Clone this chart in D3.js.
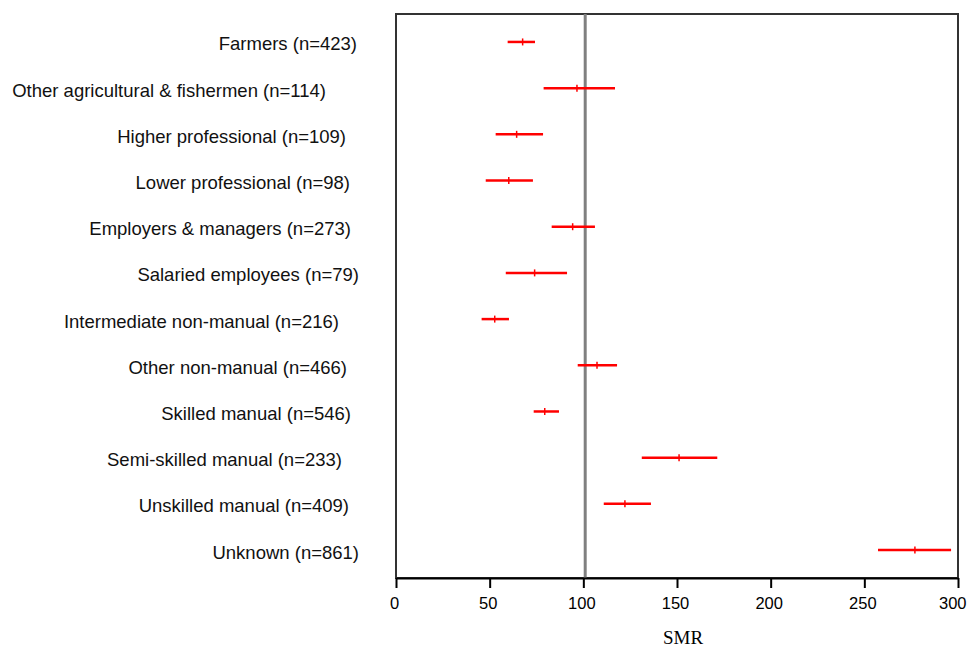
<!DOCTYPE html>
<html>
<head>
<meta charset="utf-8">
<script src="https://cdn.jsdelivr.net/npm/d3@7/dist/d3.min.js"></script>
<style>
  html, body { margin: 0; padding: 0; background: #fff; }
  svg { display: block; }
</style>
</head>
<body>
<svg id="chart" width="969" height="648"></svg>
<script>
// ---- data ----
const categories = [
  "Farmers (n=423)",
  "Other agricultural & fishermen (n=114)",
  "Higher professional (n=109)",
  "Lower professional (n=98)",
  "Employers & managers (n=273)",
  "Salaried employees (n=79)",
  "Intermediate non-manual (n=216)",
  "Other non-manual (n=466)",
  "Skilled manual (n=546)",
  "Semi-skilled manual (n=233)",
  "Unskilled manual (n=409)",
  "Unknown (n=861)"
];
const smr   = [67.6, 96.6, 64.4, 60.2, 94.3, 74.0, 52.7, 107.3, 79.4, 151.1, 122.2, 277.0];
const lower = [59.6, 78.8, 53.2, 47.9, 83.1, 58.6, 45.7, 97.0, 73.5, 131.2, 110.9, 257.3];
const upper = [74.2, 116.9, 78.5, 73.1, 106.2, 91.3, 60.3, 118.0, 87.0, 171.5, 136.1, 296.3];
const xTicks = [0, 50, 100, 150, 200, 250, 300];
const referenceValue = 101;

// ---- layout ----
const W = 969, H = 648;
const plot = { left: 396, right: 958, top: 14, bottom: 578 };
// right edge of each category label (label placement of the original)
const labelEnds = [357, 326, 346, 350, 351, 359, 339, 347, 351, 342, 349, 359];

const svg = d3.select("#chart");

const x = d3.scaleLinear().domain([0, 300]).range([plot.left, plot.right]);
const y = d3.scalePoint().domain(d3.range(categories.length))
  .range([plot.top, plot.bottom]).padding(0.605);

// frame
svg.append("rect")
  .attr("x", plot.left).attr("y", plot.top)
  .attr("width", plot.right - plot.left).attr("height", plot.bottom - plot.top)
  .attr("fill", "none").attr("stroke", "#333").attr("stroke-width", 2);

// reference line
svg.append("line")
  .attr("x1", x(referenceValue)).attr("x2", x(referenceValue))
  .attr("y1", plot.top).attr("y2", plot.bottom)
  .attr("stroke", "#808080").attr("stroke-width", 3);

// x axis
const xAxis = d3.axisBottom(x).tickValues(xTicks).tickSize(10).tickPadding(9).tickSizeOuter(0);
const gx = svg.append("g").attr("transform", `translate(0,${plot.bottom})`).call(xAxis);
gx.select(".domain").attr("stroke", "#000").attr("stroke-width", 2);
gx.selectAll(".tick line").attr("stroke", "#000").attr("stroke-width", 2);
gx.selectAll(".tick text")
  .attr("fill", "#000")
  .attr("dx", -2)
  .style("font-family", "'Liberation Sans', Arial, sans-serif")
  .style("font-size", "16.5px");
// keep the last tick label inside the page
gx.selectAll(".tick text").filter(d => d === xTicks[xTicks.length - 1])
  .attr("text-anchor", "end").attr("dx", 8);

// x title
svg.append("text")
  .attr("x", 683).attr("y", 643.5)
  .attr("text-anchor", "middle")
  .style("font-family", "'Liberation Serif', 'Times New Roman', serif")
  .style("font-size", "19px")
  .attr("fill", "#000")
  .text("SMR");

// category labels
svg.append("g").selectAll("text")
  .data(categories)
  .join("text")
  .attr("x", (d, i) => labelEnds[i])
  .attr("y", (d, i) => y(i) + 2)
  .attr("dy", "0.35em")
  .attr("text-anchor", "end")
  .style("font-family", "'Liberation Sans', Arial, sans-serif")
  .style("font-size", "18.5px")
  .attr("fill", "#111")
  .text(d => d);

// error bars
const rows = categories.map((c, i) => ({ i, est: smr[i], lo: lower[i], hi: upper[i] }));
const g = svg.append("g");
g.selectAll("line.ci")
  .data(rows).join("line")
  .attr("class", "ci")
  .attr("x1", d => x(d.lo)).attr("x2", d => x(d.hi))
  .attr("y1", d => y(d.i)).attr("y2", d => y(d.i))
  .attr("stroke", "#ff0000").attr("stroke-width", 2.5);
g.selectAll("line.est")
  .data(rows).join("line")
  .attr("class", "est")
  .attr("x1", d => x(d.est)).attr("x2", d => x(d.est))
  .attr("y1", d => y(d.i) - 3.5).attr("y2", d => y(d.i) + 3.5)
  .attr("stroke", "#ff0000").attr("stroke-width", 1.5);
</script>
</body>
</html>
